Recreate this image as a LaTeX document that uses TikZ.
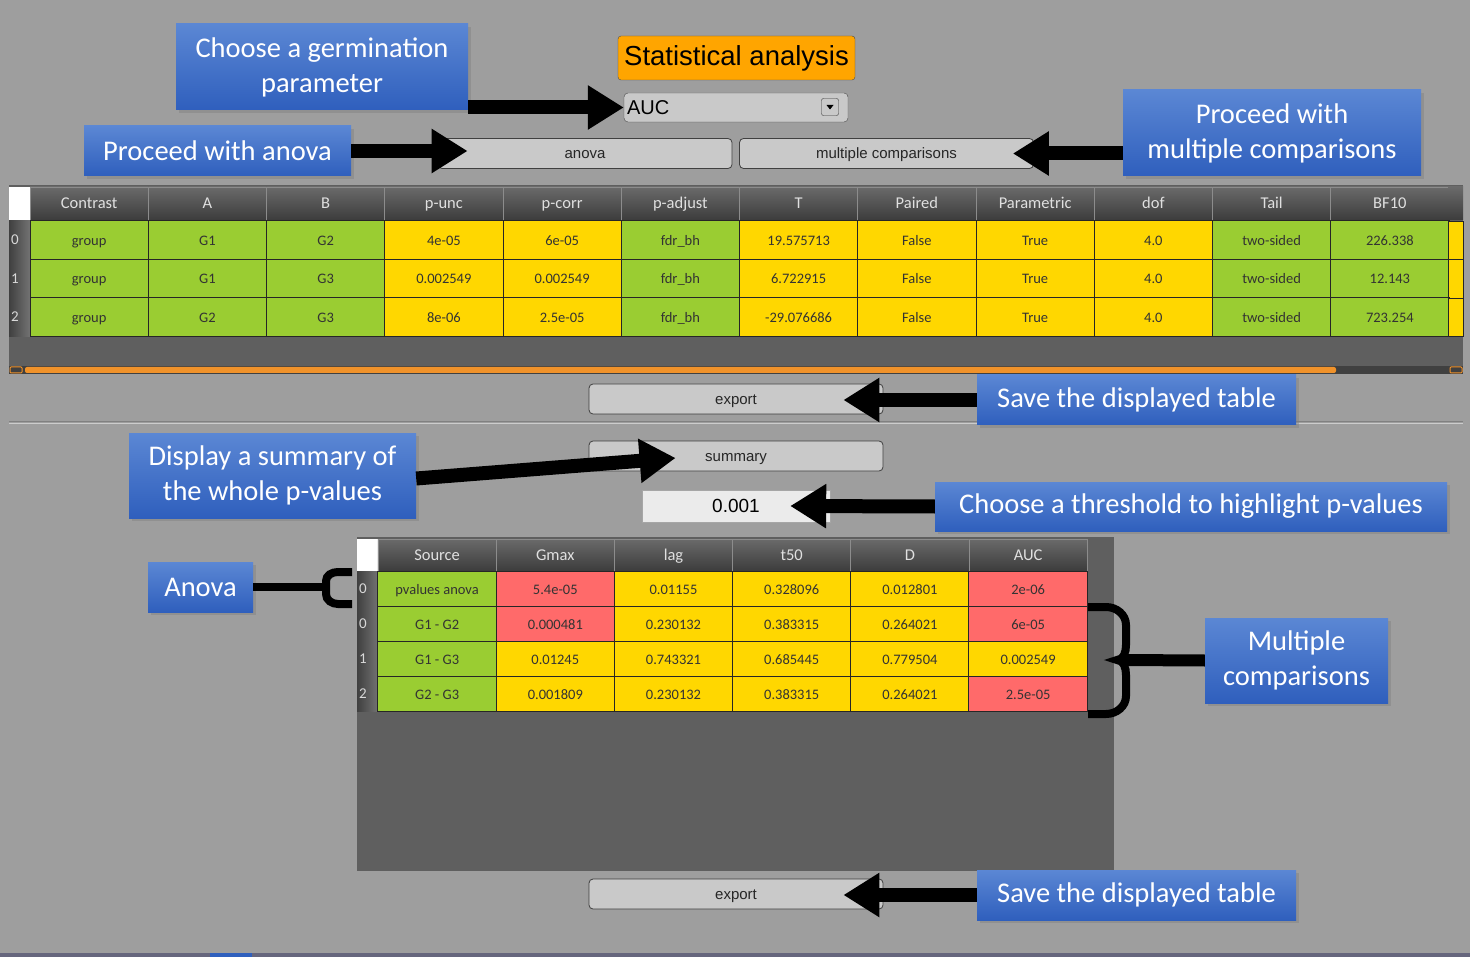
\documentclass[tikz,border=0pt]{standalone}
\usepackage{fontspec}
\usetikzlibrary{arrows.meta,shadows,calc}
\newfontfamily\guifont{Liberation Sans}
\newfontfamily\tipfont{Carlito}

\definecolor{bgGray}{HTML}{9E9E9E}
\definecolor{panel}{HTML}{5F5F5F}
\definecolor{hdTop}{HTML}{6A6A6A}
\definecolor{hdBot}{HTML}{3C3C3C}
\definecolor{cg}{HTML}{9ACD32}
\definecolor{cy}{HTML}{FFD700}
\definecolor{cr}{HTML}{FF6A6A}
\definecolor{tipTop}{HTML}{5B87D4}
\definecolor{tipBot}{HTML}{2F5FBD}
\definecolor{btnGray}{HTML}{C9C9C9}
\definecolor{titleOrange}{HTML}{FFA500}
\definecolor{barOrange}{HTML}{F0922A}

\tikzset{
  tipbox/.style={top color=tipTop, bottom color=tipBot, text=white, align=center, inner sep=0pt,
    font={\tipfont\fontsize{28.5}{35}\selectfont},
    drop shadow={shadow xshift=3pt, shadow yshift=-3pt, opacity=.45}},
  btn/.style={fill=btnGray, draw=black!75, line width=.8pt, rounded corners=4pt, inner sep=0pt,
    minimum width=294pt, minimum height=30pt, text=black!85, text height=13pt, text depth=2pt,
    font={\guifont\fontsize{15}{18}\selectfont}},
  headcell/.style={top color=hdTop, bottom color=hdBot, draw=black!45, line width=.8pt,
    minimum width=118.25pt, inner sep=0pt, text=white!88!black, text height=13.5pt, text depth=2.5pt,
    font={\tipfont\fontsize{16.5}{20}\selectfont}},
  cell/.style={draw=black!85, line width=1pt, minimum width=118.25pt, inner sep=0pt,
    text=black!80, text height=13pt, text depth=2pt, font={\tipfont\fontsize{14.5}{17}\selectfont}},
  rowidx/.style={left color=black!75, right color=black!55, minimum width=21pt, inner sep=0pt,
    text width=17pt, align=left, text=white!85!black, font={\tipfont\fontsize{15}{18}\selectfont}},
  pointer/.style={line width=14pt, -{Triangle[length=36pt,width=42pt]}},
  brk/.style={line width=8pt}
}

\begin{document}
\begin{tikzpicture}[x=1pt,y=-1pt]
\useasboundingbox (0,0) rectangle (1470,957);
\fill[bgGray] (0,0) rectangle (1470,957);
\fill[black!85!blue!60] (0,953) rectangle (1470,957);
\fill[tipBot] (210,953) rectangle (252,957);

% title and parameter choice
\node[draw=black!70, fill=titleOrange, rounded corners=3pt, minimum width=237pt, minimum height=44pt,
  inner sep=0pt, font={\guifont\fontsize{27.5}{33}\selectfont}] (title) at (736.5,58) {Statistical analysis};
\node[fill=btnGray, draw=black!70, rounded corners=4pt, minimum width=224pt, minimum height=29pt,
  inner sep=0pt, text width=218pt, align=left, font={\guifont\fontsize{20}{24}\selectfont}] (auc) at (736,107.5) {AUC};
\node[draw=black!80, fill=btnGray, rounded corners=2pt, minimum size=17pt, inner sep=0pt] (ddIcon) at (830,107) {};
\fill (826.5,105) -- (833.5,105) -- (830,109.5) -- cycle;

\node[btn] (bA) at (585,153.5) {anova};
\node[btn] (bM) at (886.5,153.5) {multiple comparisons};

% t-tests table
\fill[panel] (9,185) rectangle (1463,374);
\fill[white] (9,187) rectangle (30,220);
\foreach \hd [count=\c] in {Contrast,A,B,p-unc,p-corr,p-adjust,T,Paired,Parametric,dof,Tail,BF10}
  \node[headcell, minimum height=33pt] (ha-\c) at ({30+118.25*(\c-.5)},203.5) {\hd};
\shade[top color=hdTop, bottom color=hdBot] (1448,187) rectangle (1463,220);
\def\colsA{{"cg","cg","cg","cy","cy","cg","cy","cy","cy","cy","cg","cg"}}
\foreach \r/\row in {0/{group,G1,G2,4e-05,6e-05,fdr\_bh,19.575713,False,True,4.0,two-sided,226.338},
                     1/{group,G1,G3,0.002549,0.002549,fdr\_bh,6.722915,False,True,4.0,two-sided,12.143},
                     2/{group,G2,G3,8e-06,2.5e-05,fdr\_bh,-29.076686,False,True,4.0,two-sided,723.254}}{
  \node[rowidx, minimum height=38.5pt] (ia-\r) at (19.5,{240+38.5*\r}) {\r};
  \foreach \t [count=\c] in \row {
    \pgfmathsetmacro\k{\colsA[\c-1]}
    \node[cell, fill=\k, minimum height=38.5pt] (ca-\r-\c) at ({30+118.25*(\c-.5)},{240+38.5*\r}) {\t};
  }
  \filldraw[fill=cy, draw=black!85] (1448,{221+38.5*\r}) rectangle (1463,{259.5+38.5*\r});
}
% scroll bar
\fill[black!75] (9,366) rectangle (1463,374);
\fill[barOrange, rounded corners=2pt] (25,367) rectangle (1336,373);
\draw[barOrange, line width=1pt, rounded corners=1pt] (10,367) rectangle (22,373) (1450,367) rectangle (1462,373);

\node[btn] (bE1) at (736,399) {export};
\draw[black!50, line width=1pt] (9,422) -- (1463,422);
\draw[white!80!black, line width=1pt] (9,424) -- (1463,424);
\node[btn] (bS) at (736,456) {summary};
\node[draw=black!35, fill=black!8, minimum width=188pt, minimum height=32pt, inner sep=0pt,
  font={\guifont\fontsize{19}{23}\selectfont}] (fld) at (736,506) {0.001};

% summary table
\fill[panel] (357,537) rectangle (1114,871);
\fill[white] (357,539) rectangle (378,571);
\foreach \hd [count=\c] in {Source,Gmax,lag,t50,D,AUC}
  \node[headcell, minimum height=32pt] (hb-\c) at ({378+118.2*(\c-.5)},555) {\hd};
\foreach \r/\i/\row in {0/0/{pvalues anova/cg,5.4e-05/cr,0.01155/cy,0.328096/cy,0.012801/cy,2e-06/cr},
                        1/0/{G1 - G2/cg,0.000481/cr,0.230132/cy,0.383315/cy,0.264021/cy,6e-05/cr},
                        2/1/{G1 - G3/cg,0.01245/cy,0.743321/cy,0.685445/cy,0.779504/cy,0.002549/cy},
                        3/2/{G2 - G3/cg,0.001809/cy,0.230132/cy,0.383315/cy,0.264021/cy,2.5e-05/cr}}{
  \node[rowidx, minimum height=35pt] (ib-\r) at (367.5,{588.5+35*\r}) {\i};
  \foreach \t/\k [count=\c] in \row
    \node[cell, fill=\k, minimum height=35pt] (cb-\r-\c) at ({378+118.2*(\c-.5)},{588.5+35*\r}) {\t};
}

\node[btn] (bE2) at (736,894) {export};

% callouts
\node[tipbox, minimum width=292pt, minimum height=86pt] (germ) at (322,67) {Choose a germination\\parameter};
\node[tipbox, minimum width=267pt, minimum height=50pt] (anv) at (217.5,151) {Proceed with anova};
\node[tipbox, minimum width=298pt, minimum height=86pt] (mult) at (1272,133) {Proceed with\\multiple comparisons};
\node[tipbox, minimum width=319pt, minimum height=50pt] (save1) at (1136.5,400) {Save the displayed table};
\node[tipbox, minimum width=287pt, minimum height=85pt] (summ) at (272.5,475.5) {Display a summary of\\the whole p-values};
\node[tipbox, minimum width=512pt, minimum height=49pt] (thr) at (1191,506.5) {Choose a threshold to highlight p-values};
\node[tipbox, minimum width=105pt, minimum height=50pt] (anovaLbl) at (200.5,587) {Anova};
\node[tipbox, minimum width=183pt, minimum height=85pt] (mc) at (1296.5,660.5) {Multiple\\comparisons};
\node[tipbox, minimum width=319pt, minimum height=50pt] (save2) at (1136.5,895) {Save the displayed table};

% arrows
\draw[pointer] (germ.east |- auc.west) -- (auc.west);
\draw[pointer] (anv.east) -- ($(anv.east -| bA.west)+(30,0)$);
\draw[pointer] (mult.west |- bM.east) -- ($(bM.east)+(-21,0)$);
\draw[pointer] (save1.west) -- ($(bE1.east)+(-40,1)$);
\draw[pointer] ([yshift=-3pt]summ.east) -- ($(bS.west)+(87,2)$);
\draw[pointer] (thr.west) -- ($(fld.east)+(-40,0)$);
\draw[pointer] (save2.west) -- ($(bE2.east)+(-40,1)$);

% brackets
\draw[brk] (anovaLbl.east) -- (326,587);
\draw[brk] (352,572) -- (338,572) to[out=180,in=90] (326,581) -- (326,594) to[out=-90,in=180] (338,604) -- (352,604);
\draw[brk] (1088,607) -- (1106,607) to[out=0,in=90] (1126,625) -- (1126,645) to[out=-90,in=0] (1117,660)
  to[out=0,in=90] (1126,675) -- (1126,696) to[out=-90,in=0] (1106,714) -- (1088,714);
\draw[line width=12pt] (1122,660) -- (mc.west);
\end{tikzpicture}
\end{document}
